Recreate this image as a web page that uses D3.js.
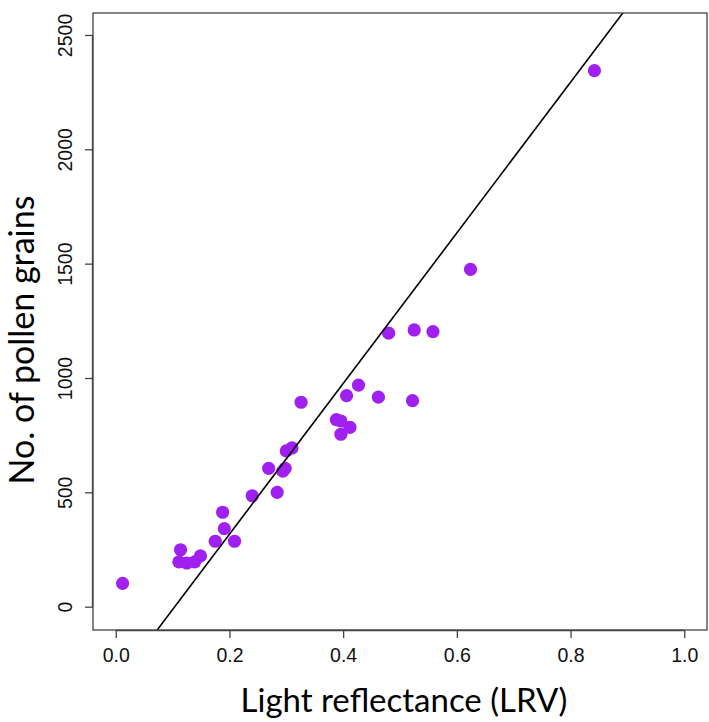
<!DOCTYPE html>
<html>
<head>
<meta charset="utf-8">
<script src="https://cdn.jsdelivr.net/npm/d3@7"></script>
<style>
html,body{margin:0;padding:0;background:#fff;}
svg{display:block;}
</style>
</head>
<body>
<svg id="chart" width="709" height="722"></svg>
<script>
// Data
const lrv = [0.012,0.114,0.111,0.125,0.139,0.149,0.175,0.191,0.188,0.209,0.240,0.269,0.284,0.294,0.298,0.300,0.310,0.326,0.388,0.396,0.412,0.396,0.406,0.427,0.462,0.522,0.480,0.525,0.558,0.624,0.842];
const pollen = [102,249,196,191,196,222,286,341,413,286,485,605,500,593,605,681,694,894,818,812,784,754,923,969,916,901,1196,1210,1203,1475,2344];
const xTicks = [0.0,0.2,0.4,0.6,0.8,1.0];
const yTicks = [0,500,1000,1500,2000,2500];
const fitLine = [-342, 3294]; // intercept, slope

const svg = d3.select("#chart");
const L = 93, R = 707, T = 13, B = 630;
const x = d3.scaleLinear().domain([-0.04, 1.04]).range([L, R]);
const y = d3.scaleLinear().domain([-102, 2596]).range([B, T]);

svg.append("defs").append("clipPath").attr("id","clip")
  .append("rect").attr("x",L).attr("y",T).attr("width",R-L).attr("height",B-T);

// points
svg.append("g").selectAll("circle").data(lrv).join("circle")
  .attr("cx",(d)=>x(d)).attr("cy",(d,i)=>y(pollen[i])).attr("r",6.6)
  .attr("fill","#a020f0");

// regression line
const lx = [-0.04, 1.04];
svg.append("line").attr("clip-path","url(#clip)")
  .attr("x1",x(lx[0])).attr("y1",y(fitLine[0]+fitLine[1]*lx[0]))
  .attr("x2",x(lx[1])).attr("y2",y(fitLine[0]+fitLine[1]*lx[1]))
  .attr("stroke","#000").attr("stroke-width",1.6);

// box
svg.append("rect").attr("x",L).attr("y",T).attr("width",R-L).attr("height",B-T)
  .attr("fill","none").attr("stroke","#444").attr("stroke-width",1.3);

// x axis
const xa = svg.append("g").attr("transform",`translate(0,${B})`)
  .call(d3.axisBottom(x).tickValues(xTicks).tickSize(8).tickSizeOuter(0).tickFormat(d3.format(".1f")).tickPadding(4));
xa.select(".domain").attr("d",`M${x(0)},0.5H${x(1)}`).attr("stroke","#444").attr("stroke-width",1.3);
xa.selectAll(".tick line").attr("stroke","#444").attr("stroke-width",1.3);
xa.selectAll(".tick text").attr("font-family","Liberation Sans, Arial, sans-serif").attr("font-size","19.5px").attr("fill","#111")
  .attr("dy",null).attr("y",null).attr("transform","translate(0,32)");

// y axis
const ya = svg.append("g").attr("transform",`translate(${L},0)`)
  .call(d3.axisLeft(y).tickValues(yTicks).tickSize(8).tickSizeOuter(0).tickFormat(d3.format("d")));
ya.select(".domain").attr("d",`M-0.5,${y(0)}V${y(2500)}`).attr("stroke","#444").attr("stroke-width",1.3);
ya.selectAll(".tick line").attr("stroke","#444").attr("stroke-width",1.3);
ya.selectAll(".tick text").attr("font-family","Liberation Sans, Arial, sans-serif").attr("font-size","19.5px").attr("fill","#111")
  .attr("x",null).attr("dy",null).attr("text-anchor","middle")
  .attr("transform","translate(-21,0) rotate(-90)");

// titles
svg.append("text").attr("x",404).attr("y",712).attr("text-anchor","middle")
  .attr("font-family","Lato, 'Open Sans', sans-serif").attr("font-size","33px").attr("fill","#000")
  .text("Light reflectance (LRV)");
svg.append("text").attr("transform","translate(34,340) rotate(-90)").attr("text-anchor","middle")
  .attr("font-family","Lato, 'Open Sans', sans-serif").attr("font-size","34px").attr("fill","#000")
  .text("No. of pollen grains");
</script>
</body>
</html>
